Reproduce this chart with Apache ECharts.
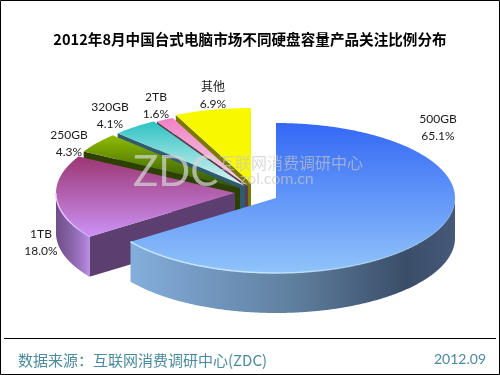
<!DOCTYPE html>
<html>
<head>
<meta charset="utf-8">
<style>
  html, body { margin: 0; padding: 0; background: #fff; }
  #chart { width: 500px; height: 375px; }
</style>
<script src="https://cdn.jsdelivr.net/npm/echarts@6/dist/echarts.min.js"></script>
</head>
<body>
<div id="chart"></div>
<script>
  const categories = ['500GB', '1TB', '250GB', '320GB', '2TB', '其他'];
  const shares = [65.1, 18.0, 4.3, 4.1, 1.6, 6.9];

  // slice apex, each one is pulled out of the pie a bit differently
  const apexes = [[276, 198], [235, 193], [240, 188], [245, 186], [248, 186], [251, 183]];
  const labelAt = [[438, 128], [41, 243], [69, 144], [110, 116], [156, 106], [213, 96]];
  const topColors = [
    ['#3468f6', '#90c4fa'],
    ['#9c3672', '#cc92f6'],
    ['#90bc00', '#2c5208'],
    ['#2cc2c2', '#e0f4f4'],
    ['#f080c4', '#f8d8ec'],
    ['#f8f800', '#f8f800'],
  ];
  const cutColors = ['#3a4d68', '#5c3f70', '#2e4000', '#2f5a70', '#5c3a50', '#7a7a00'];
  const wallColors = [
    ['#84aedc', '#5f7f9f', '#3a4d68', '#46597a'],
    ['#bd8fe6', '#a87ed2', '#8c66ac', '#6e4e88'],
    ['#2e4000', '#2e4000', '#2e4000', '#2e4000'],
    ['#2f5a70', '#2f5a70', '#2f5a70', '#2f5a70'],
    ['#5c3a50', '#5c3a50', '#5c3a50', '#5c3a50'],
    ['#7a7a00', '#7a7a00', '#7a7a00', '#7a7a00'],
  ];
  const rimColors = ['#c4e4ff', '#e6c0ff', null, null, null, null];

  const rx = 179;
  const ry = 75;
  const depth = 40;
  const total = shares.reduce((a, b) => a + b, 0);

  function rimPoint(apex, deg, dy) {
    const r = (deg * Math.PI) / 180;
    return [apex[0] + rx * Math.sin(r), apex[1] - ry * Math.cos(r) + (dy || 0)];
  }

  function arcPoints(apex, from, to, dy) {
    const pts = [];
    const steps = Math.max(2, Math.ceil(Math.abs(to - from) * 2));
    for (let i = 0; i <= steps; i++) {
      pts.push(rimPoint(apex, from + ((to - from) * i) / steps, dy));
    }
    return pts;
  }

  function vGrad(c) {
    return { type: 'linear', x: 0, y: 0, x2: 0, y2: 1, colorStops: [{ offset: 0, color: c[0] }, { offset: 1, color: c[1] }] };
  }
  function wallGrad(c) {
    return {
      type: 'linear', x: 0, y: 0, x2: 1, y2: 0,
      colorStops: [
        { offset: 0, color: c[0] },
        { offset: 0.5, color: c[1] },
        { offset: 0.85, color: c[2] },
        { offset: 1, color: c[3] },
      ],
    };
  }

  function renderSlice(params, api) {
    const i = params.dataIndex;
    const before = shares.slice(0, i).reduce((a, b) => a + b, 0);
    const from = (before / total) * 360;
    const to = ((before + api.value(0)) / total) * 360;
    const apex = apexes[i];
    const z = (categories.length - i) * 10 + (i === 0 ? 100 : 0);
    const children = [];

    // cut face on the start edge, faces the viewer only for the left half
    if (from > 180) {
      const a = rimPoint(apex, from);
      children.push({
        type: 'polygon', z2: z,
        shape: { points: [apex, a, [a[0], a[1] + depth], [apex[0], apex[1] + depth]] },
        style: { fill: cutColors[i] },
      });
    }

    // outer wall, only the part that is on the front side
    const wFrom = Math.max(from, 90);
    const wTo = Math.min(to, 270);
    if (wTo > wFrom) {
      const upper = arcPoints(apex, wFrom, wTo, 0);
      const lower = arcPoints(apex, wTo, wFrom, depth);
      children.push({
        type: 'polygon', z2: z + 1,
        shape: { points: upper.concat(lower) },
        style: { fill: wallGrad(i === 1 ? wallColors[i].slice().reverse() : wallColors[i]) },
      });
    }

    const top = [apex].concat(arcPoints(apex, from, to, 0));
    children.push({
      type: 'polygon', z2: z + 2,
      shape: { points: top },
      style: { fill: vGrad(topColors[i]) },
    });

    if (rimColors[i] && wTo > wFrom) {
      children.push({
        type: 'polyline', z2: z + 3,
        shape: { points: arcPoints(apex, wFrom, wTo, 0) },
        style: {
          fill: 'none', lineWidth: 1.5,
          stroke: {
            type: 'linear', x: 1, y: 0, x2: 0, y2: 0,
            colorStops: [{ offset: 0, color: 'rgba(196,228,255,0)' }, { offset: 0.6, color: rimColors[i] }, { offset: 1, color: rimColors[i] }],
          },
        },
      });
    }

    const lbl = labelAt[i];
    children.push({
      type: 'text', z2: 500,
      style: {
        x: lbl[0], y: lbl[1],
        text: categories[i] + '\n' + api.value(0).toFixed(1) + '%',
        fill: '#1a1a1a', align: 'center', verticalAlign: 'middle',
        font: '12px Lato, "Noto Sans CJK SC", sans-serif', lineHeight: 17,
      },
    });
    return { type: 'group', children };
  }

  const chart = echarts.init(document.getElementById('chart'));
  chart.setOption({
    animation: false,
    backgroundColor: '#fff',
    title: {
      text: '2012年8月中国台式电脑市场不同硬盘容量产品关注比例分布',
      left: 'center',
      top: 27,
      textStyle: { fontSize: 14.6, fontWeight: 'bold', color: '#000', fontFamily: '"Noto Sans CJK SC", sans-serif' },
    },
    series: [{
      type: 'custom',
      coordinateSystem: 'none',
      renderItem: renderSlice,
      data: shares.map((v) => [v]),
    }],
    graphic: [
      { type: 'rect', z: 0, shape: { x: 0.5, y: 0.5, width: 499, height: 374 }, style: { fill: 'none', stroke: '#000', lineWidth: 1 } },
      { type: 'line', z: 10, shape: { x1: 4, y1: 338.5, x2: 496, y2: 338.5 }, style: { stroke: '#000', lineWidth: 1 } },
      { type: 'text', z: 10, style: { x: 18, y: 360, text: '数据来源：互联网消费调研中心(ZDC)', fill: '#4a8a9e', font: '15px "Noto Sans CJK SC", sans-serif', verticalAlign: 'middle' } },
      { type: 'text', z: 10, style: { x: 486, y: 359, text: '2012.09', fill: '#4a8a9e', font: '14px Lato, sans-serif', align: 'right', verticalAlign: 'middle' } },
      // watermark
      { type: 'text', z: 20, style: { x: 133, y: 172, text: 'ZDC', fill: 'rgba(215,215,215,0.7)', font: '42px Lato, sans-serif', verticalAlign: 'middle', shadowBlur: 3, shadowColor: 'rgba(120,120,120,0.45)', shadowOffsetX: 1, shadowOffsetY: 1 } },
      { type: 'text', z: 20, style: { x: 219, y: 163, text: '互联网消费调研中心', fill: 'rgba(200,200,200,0.65)', font: '16px "Noto Sans CJK SC", sans-serif', verticalAlign: 'middle', shadowBlur: 2, shadowColor: 'rgba(120,120,120,0.4)', shadowOffsetX: 1, shadowOffsetY: 1 } },
      { type: 'text', z: 20, style: { x: 240, y: 179, text: 'zol.com.cn', fill: 'rgba(200,200,200,0.65)', font: '16px Lato, sans-serif', verticalAlign: 'middle', shadowBlur: 2, shadowColor: 'rgba(120,120,120,0.4)', shadowOffsetX: 1, shadowOffsetY: 1 } },
    ],
  });
</script>
</body>
</html>
